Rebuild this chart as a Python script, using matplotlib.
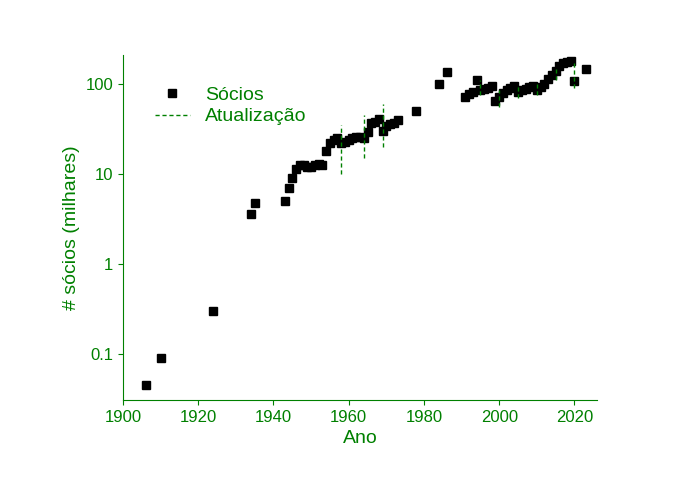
import matplotlib
matplotlib.use("Agg")
import matplotlib.pyplot as plt
from matplotlib.ticker import FixedLocator, FixedFormatter, NullLocator

plt.rcParams["font.family"] = "Liberation Sans"

years = [1906,1910,1924,1934,1935,1943,1944,1945,1946,1947,1948,1949,1950,1951,1952,1953,1954,1955,1956,1957,
         1958,1959,1960,1961,1962,1963,1964,1965,1966,1967,1968,1969,1970,1971,1972,1973,1978,1984,1986,
         1991,1992,1993,1994,1995,1996,1997,1998,1999,2000,2001,2002,2003,2004,2005,2006,2007,2008,2009,
         2010,2011,2012,2013,2014,2015,2016,2017,2018,2019,2020,2023]
socios = [0.046,0.09,0.3,3.6,4.8,5,7,9,11.5,12.5,12.5,12,12,12.5,13,12.5,18,22,24,25,
          22,23,24,25,26,26,25,29,37,38,41,30,34,36,37,40,50,100,135,
          72,78,82,110,85,88,90,95,65,72,80,86,90,95,82,85,88,92,95,
          85,92,100,115,125,140,160,170,175,180,108,145]
upd_years = [1958,1964,1969,1995,2000,2005,2010,2015,2020]
upd_low = [10,15,20,75,55,70,75,110,90]
upd_high = [35,45,60,110,85,95,100,145,180]

G = "#008000"
fig = plt.figure(figsize=(6.9,4.8), dpi=100)
ax = fig.add_axes([123/690, 80/480, 474/690, 345/480])
ax.plot(years, socios, "s", color="black", markersize=6, label="Sócios", linestyle="none")
for i, (x, lo, hi) in enumerate(zip(upd_years, upd_low, upd_high)):
    ax.plot([x, x], [lo, hi], color=G, lw=1.0, linestyle=(0, (3, 2)),
             label="Atualização" if i == 0 else None)
ax.set_yscale("log")
ax.set_xlim(1900, 2026)
ax.set_ylim(0.031, 210)
ax.yaxis.set_major_locator(FixedLocator([0.1,1,10,100]))
ax.yaxis.set_major_formatter(FixedFormatter(["0.1","1","10","100"]))
ax.yaxis.set_minor_locator(NullLocator())
ax.set_xticks([1900,1920,1940,1960,1980,2000,2020])
for s in ["top","right"]:
    ax.spines[s].set_visible(False)
for s in ["left","bottom"]:
    ax.spines[s].set_color(G)
ax.tick_params(colors=G, labelcolor=G, labelsize=12)
ax.set_xlabel("Ano", color=G, fontsize=14)
ax.set_ylabel("# sócios (milhares)", color=G, fontsize=14)
leg = ax.legend(loc="upper left", bbox_to_anchor=(0.03, 0.96), frameon=False, fontsize=14,
                handlelength=1.8, labelspacing=0.2)
for t in leg.get_texts():
    t.set_color(G)
fig.savefig("out.png", dpi=100)
